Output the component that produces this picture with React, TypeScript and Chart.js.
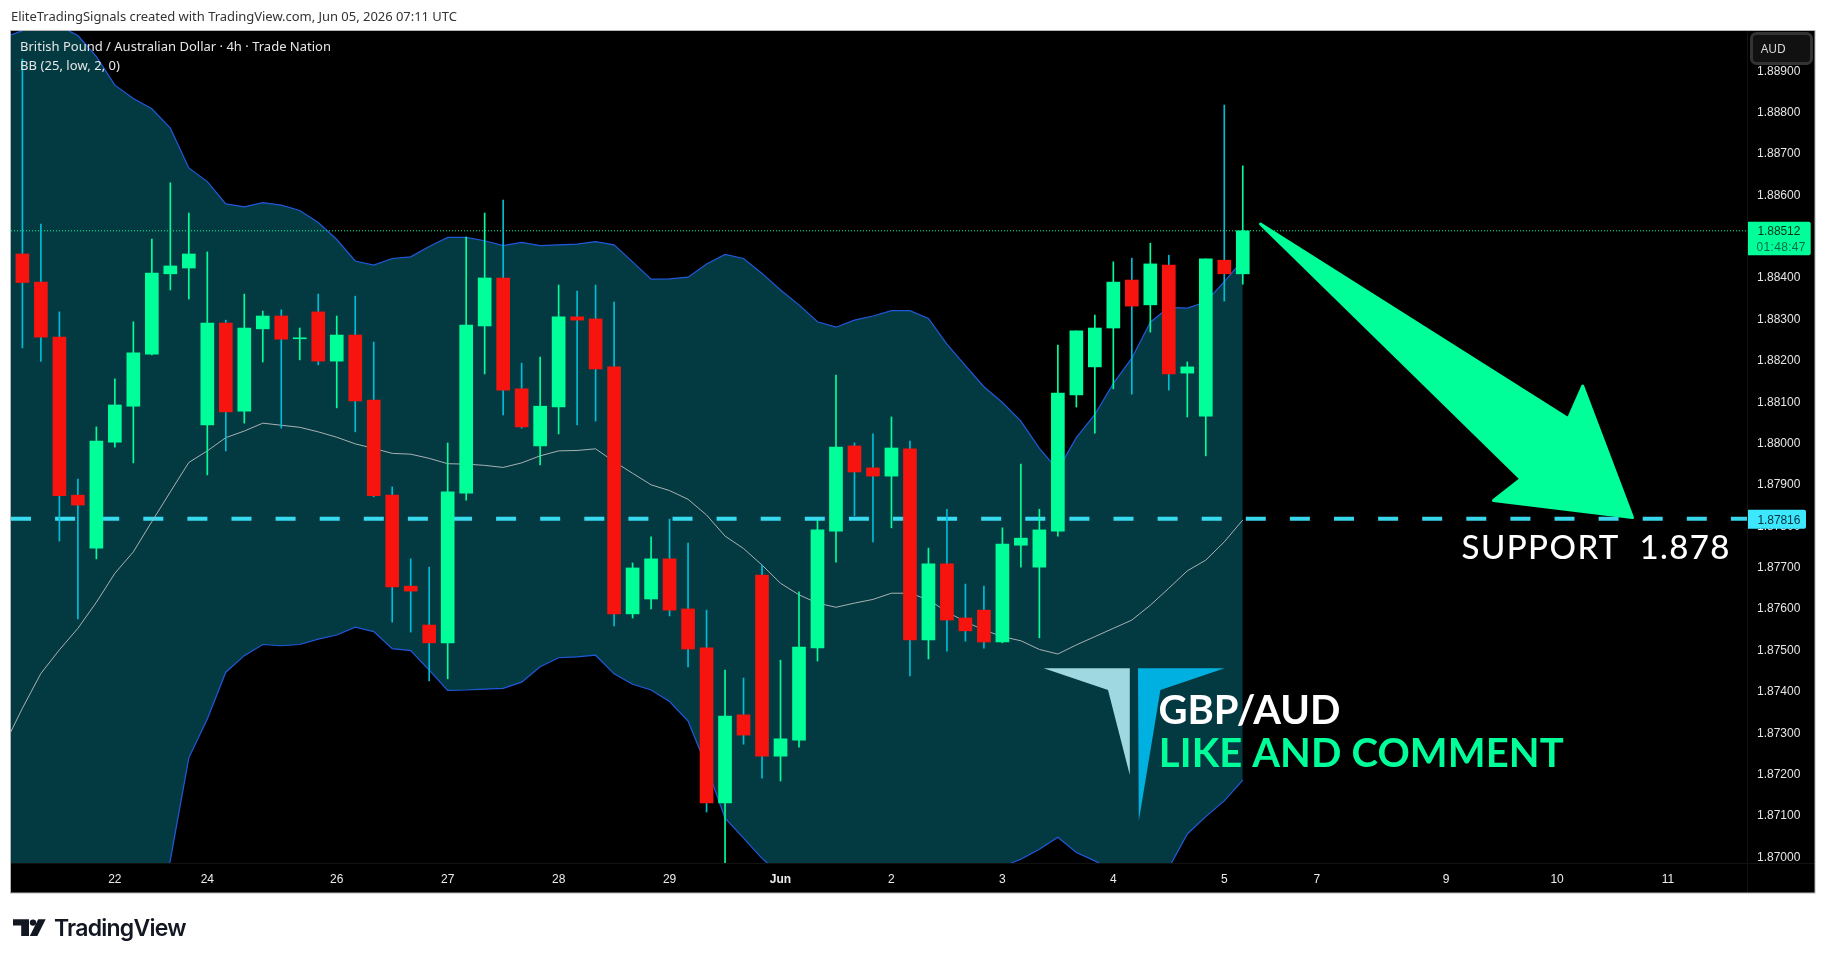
import React, { useEffect, useRef } from "react";
import { Chart, registerables } from "chart.js";

Chart.register(...registerables);

// candles, one per 4h bar
const opens = [
  1.88456, 1.88388, 1.88255, 1.87873, 1.87745, 1.88001, 1.88088, 1.88214, 1.88408, 1.88422,
  1.88043, 1.88289, 1.88076, 1.88275, 1.88306, 1.88251, 1.88316, 1.88197, 1.8826, 1.88103,
  1.87873, 1.87653, 1.87559, 1.87516, 1.87878, 1.88282, 1.88398, 1.8813, 1.87992, 1.88086,
  1.88304, 1.88299, 1.88183, 1.87586, 1.87622, 1.87719, 1.87598, 1.87504, 1.87129, 1.87342,
  1.8768, 1.87242, 1.87281, 1.87504, 1.87786, 1.87992, 1.87939, 1.87919, 1.87985, 1.87523,
  1.87707, 1.87576, 1.87595, 1.87518, 1.87752, 1.87699, 1.87786, 1.88115, 1.88183, 1.88277,
  1.88393, 1.88333, 1.88429, 1.88168, 1.88064, 1.88441, 1.88408,
];
const closes = [
  1.88387, 1.88255, 1.87872, 1.87849, 1.88004, 1.88091, 1.88217, 1.8841, 1.88427, 1.88456,
  1.88289, 1.88074, 1.88277, 1.88306, 1.8825, 1.88253, 1.88197, 1.8826, 1.88101, 1.87872,
  1.87651, 1.87641, 1.87516, 1.87881, 1.88284, 1.88398, 1.88127, 1.88038, 1.88088, 1.88304,
  1.88296, 1.88178, 1.87586, 1.87697, 1.87719, 1.87595, 1.87501, 1.87129, 1.87339, 1.87293,
  1.87242, 1.87284, 1.87506, 1.87789, 1.87989, 1.87929, 1.87919, 1.87987, 1.87523, 1.87707,
  1.87571, 1.87545, 1.87518, 1.87755, 1.87769, 1.87789, 1.8812, 1.8827, 1.88277, 1.88388,
  1.8833, 1.88432, 1.88166, 1.88183, 1.88444, 1.88408, 1.88512,
];
const highs = [
  1.88927, 1.88528, 1.88316, 1.87912, 1.88038, 1.88154, 1.88292, 1.88492, 1.88628, 1.88555,
  1.88461, 1.88296, 1.88359, 1.88318, 1.88321, 1.88277, 1.88359, 1.88306, 1.88354, 1.88243,
  1.87893, 1.87719, 1.87699, 1.87999, 1.88497, 1.88555, 1.88586, 1.88192, 1.88207, 1.88381,
  1.88366, 1.88381, 1.8834, 1.87709, 1.87772, 1.87815, 1.87757, 1.87595, 1.8745, 1.87431,
  1.87704, 1.87474, 1.87639, 1.87813, 1.88163, 1.87999, 1.88021, 1.88062, 1.88004, 1.87745,
  1.87839, 1.87658, 1.87653, 1.87794, 1.87948, 1.87839, 1.88236, 1.8827, 1.88308, 1.88437,
  1.88446, 1.88482, 1.88453, 1.88195, 1.88444, 1.88816, 1.88669,
];
const lows = [
  1.88229, 1.88196, 1.87762, 1.87574, 1.87719, 1.87989, 1.87951, 1.88212, 1.88369, 1.88347,
  1.87922, 1.8798, 1.88047, 1.88195, 1.88035, 1.882, 1.88188, 1.88084, 1.88026, 1.87869,
  1.87566, 1.87542, 1.87424, 1.87429, 1.87861, 1.88166, 1.88067, 1.88035, 1.87946, 1.88021,
  1.88043, 1.88052, 1.87557, 1.87576, 1.87598, 1.87581, 1.87458, 1.87107, 1.8698, 1.87271,
  1.87189, 1.87182, 1.87264, 1.87472, 1.87711, 1.87823, 1.8776, 1.87794, 1.87436, 1.87477,
  1.87496, 1.8752, 1.87503, 1.87516, 1.87699, 1.87528, 1.87774, 1.88086, 1.88023, 1.8813,
  1.88117, 1.88267, 1.88127, 1.88062, 1.87968, 1.88342, 1.88383,
];

// Bollinger bands, these start one bar before the first candle
const bbUpper = [
  1.88979, 1.88996, 1.89005, 1.89007, 1.88984, 1.88933, 1.88864, 1.88832, 1.88807, 1.8876,
  1.88664, 1.88631, 1.88577, 1.8857, 1.8858, 1.88574, 1.88561, 1.88532, 1.88491, 1.88439,
  1.88429, 1.88445, 1.88449, 1.88474, 1.88496, 1.88496, 1.88488, 1.88476, 1.88484, 1.88476,
  1.88478, 1.8848, 1.88486, 1.88478, 1.88437, 1.88395, 1.88396, 1.884, 1.88432, 1.88455,
  1.88445, 1.88409, 1.88369, 1.88333, 1.88292, 1.88279, 1.88296, 1.88306, 1.88319, 1.88319,
  1.883, 1.88238, 1.88186, 1.88135, 1.88097, 1.88052, 1.87986, 1.87934, 1.88012, 1.88068,
  1.88143, 1.88204, 1.88291, 1.88327, 1.88325, 1.8834, 1.88389, 1.88441,
];
const bbMiddle = [
  1.87267, 1.87358, 1.87442, 1.87499, 1.87551, 1.87614, 1.87684, 1.87736, 1.87809, 1.87881,
  1.87952, 1.8798, 1.88012, 1.88028, 1.88047, 1.88042, 1.88037, 1.88026, 1.88013, 1.87997,
  1.87986, 1.87974, 1.87972, 1.87962, 1.87949, 1.87948, 1.87945, 1.8794, 1.87951, 1.87968,
  1.8798, 1.87981, 1.87985, 1.87954, 1.87926, 1.87898, 1.87884, 1.87863, 1.87825, 1.87774,
  1.87744, 1.87704, 1.8766, 1.87632, 1.87612, 1.87602, 1.87612, 1.87621, 1.87636, 1.87636,
  1.8762, 1.87591, 1.87567, 1.87547, 1.87531, 1.87521, 1.875, 1.87489, 1.87511, 1.87531,
  1.87551, 1.87571, 1.87607, 1.87648, 1.8769, 1.87716, 1.8776, 1.87813,
];
const bbLower = [
  1.85686, 1.85734, 1.85807, 1.85903, 1.86024, 1.86169, 1.86338, 1.86532, 1.86749, 1.86991,
  1.87238, 1.87332, 1.87445, 1.87485, 1.87512, 1.87509, 1.87512, 1.87525, 1.87535, 1.87554,
  1.87543, 1.87502, 1.87497, 1.8745, 1.87401, 1.87402, 1.87404, 1.87406, 1.87421, 1.87458,
  1.8748, 1.87482, 1.87486, 1.87441, 1.87416, 1.87402, 1.87374, 1.87327, 1.87217, 1.87092,
  1.87044, 1.86995, 1.86955, 1.86935, 1.86919, 1.86911, 1.86911, 1.86919, 1.86926, 1.86935,
  1.86943, 1.8695, 1.8696, 1.86972, 1.86975, 1.86993, 1.87017, 1.87046, 1.87009, 1.86989,
  1.86963, 1.8695, 1.8696, 1.86972, 1.87054, 1.87096, 1.87134, 1.87184,
];

const supportPrice = 1.87816;
const lastPrice = 1.88512;

const yTickValues = [
  1.87, 1.871, 1.872, 1.873, 1.874, 1.875, 1.876, 1.877, 1.878, 1.879,
  1.88, 1.881, 1.882, 1.883, 1.884, 1.885, 1.886, 1.887, 1.888, 1.889,
];
const xTickValues = [5, 10, 17, 23, 29, 35, 41, 47, 53, 59, 65, 70, 77, 83, 89];
const xTickLabels = ["22", "24", "26", "27", "28", "29", "Jun", "2", "3", "4", "5", "7", "9", "10", "11"];

const X_MIN = -0.617;
const X_MAX = 93.27;
const GREEN = "#00ff99";
const RED = "#f7140e";
const WICK_DOWN = "#00bcd4";
const BAND_FILL = "#033a42";
const AXIS_FONT = "'Liberation Sans'";

// text squeezed or spaced out to the width it has in the picture
function fitText(ctx: any, text: string, x: number, y: number, font: string, color: string, width: number) {
  ctx.font = font;
  ctx.letterSpacing = "0px";
  const natural = ctx.measureText(text).width;
  ctx.letterSpacing = (width - natural) / (text.length - 1) + "px";
  ctx.fillStyle = color;
  ctx.textAlign = "left";
  ctx.textBaseline = "alphabetic";
  ctx.fillText(text, x, y);
  ctx.letterSpacing = "0px";
}

function polygon(ctx: any, points: number[][], color: string, round = 0) {
  ctx.beginPath();
  points.forEach(([x, y], i) => (i ? ctx.lineTo(x, y) : ctx.moveTo(x, y)));
  ctx.closePath();
  ctx.fillStyle = color;
  ctx.fill();
  if (round) {
    ctx.strokeStyle = color;
    ctx.lineWidth = round;
    ctx.lineJoin = "round";
    ctx.stroke();
  }
}

// white page, black pane and its frame
const framePlugin = {
  id: "frame",
  beforeDraw(chart: any) {
    const { ctx, chartArea } = chart;
    ctx.save();
    ctx.fillStyle = "#ffffff";
    ctx.fillRect(0, 0, chart.width, chart.height);
    ctx.fillStyle = "#000000";
    ctx.fillRect(11, 30, 1804, 863);
    ctx.fillStyle = "#121212";
    ctx.fillRect(chartArea.right, 30, 1, 863);
    ctx.fillRect(11, chartArea.bottom, 1804, 1);
    ctx.restore();
  },
};

// everything that was drawn by hand on the TradingView chart
const drawingsPlugin = {
  id: "drawings",
  afterDraw(chart: any) {
    const { ctx } = chart;
    const y = chart.scales.y;
    ctx.save();

    // frame on top of the chart edges
    ctx.strokeStyle = "#b4b4b4";
    ctx.lineWidth = 1;
    ctx.strokeRect(10.5, 30.5, 1804.5, 862.5);

    // arrow
    polygon(
      ctx,
      [
        [1260.5, 224],
        [1568.4, 418.7],
        [1582.7, 386],
        [1632.5, 517.5],
        [1493.5, 500.5],
        [1521, 479],
      ],
      GREEN,
      3
    );

    // logo mark
    polygon(ctx, [[1043.7, 668.3], [1129.8, 668.3], [1129.8, 775], [1108, 690]], "#a0d8e2");
    polygon(ctx, [[1138, 668.3], [1224.5, 668.3], [1160.4, 690], [1138.8, 821]], "#00b0e0");

    // annotations
    fitText(ctx, "GBP/AUD", 1158.4, 724, "bold 40px 'Lato'", "#ffffff", 182);
    fitText(ctx, "LIKE AND COMMENT", 1158.8, 766.7, "bold 40px 'Lato'", GREEN, 405);
    fitText(ctx, "SUPPORT  1.878", 1461.5, 559, "500 33px 'Lato'", "#ffffff", 268);

    // header and legend
    fitText(
      ctx,
      "EliteTradingSignals created with TradingView.com, Jun 05, 2026 07:11 UTC",
      11,
      21,
      "13px 'Noto Sans'",
      "#333333",
      446
    );
    fitText(ctx, "British Pound / Australian Dollar · 4h · Trade Nation", 20, 51, "13px 'Noto Sans'", "#e6e6e6", 311);
    fitText(ctx, "BB (25, low, 2, 0)", 20, 70, "13px 'Noto Sans'", "#e6e6e6", 100);

    // currency button
    ctx.beginPath();
    ctx.roundRect(1751.5, 33.5, 60, 30, 5);
    ctx.fillStyle = "#111111";
    ctx.fill();
    ctx.strokeStyle = "#333333";
    ctx.stroke();
    fitText(ctx, "AUD", 1760.7, 53, "12px 'Noto Sans'", "#d8d8d8", 25);

    // price tags on the axis
    const lastY = y.getPixelForValue(lastPrice);
    ctx.beginPath();
    ctx.roundRect(1748, lastY - 9, 62.7, 33.5, [0, 2, 2, 0]);
    ctx.fillStyle = GREEN;
    ctx.fill();
    fitText(ctx, "1.88512", 1757.4, lastY + 4.5, "12px 'Liberation Sans'", "#003322", 43);
    fitText(ctx, "01:48:47", 1756.5, lastY + 20, "12px 'Liberation Sans'", "#046b4a", 49);

    const supportY = y.getPixelForValue(supportPrice);
    ctx.beginPath();
    ctx.roundRect(1748, supportY - 9, 58, 19, [0, 2, 2, 0]);
    ctx.fillStyle = "#3de8ff";
    ctx.fill();
    fitText(ctx, "1.87816", 1757.4, supportY + 5.5, "12px 'Liberation Sans'", "#06323a", 43);

    // TradingView logo
    polygon(ctx, [[13, 919.3], [29, 919.3], [29, 936], [21.2, 936], [21.2, 925.5], [13, 925.5]], "#131722");
    polygon(ctx, [[45.7, 919.3], [38.2, 919.3], [29.8, 936], [37.3, 936]], "#131722");
    ctx.beginPath();
    ctx.arc(33, 922.6, 3.2, 0, Math.PI * 2);
    ctx.fillStyle = "#131722";
    ctx.fill();
    fitText(ctx, "TradingView", 53.9, 936, "600 23px 'Inter'", "#131722", 132.6);

    ctx.restore();
  },
};

const App: React.FC = () => {
  const chartRef = useRef<HTMLCanvasElement | null>(null);

  useEffect(() => {
    if (!chartRef.current) return;
    document.body.style.margin = "0";

    const candleColors = closes.map((c, i) => (c >= opens[i] ? GREEN : RED));
    const wickColors = closes.map((c, i) => (c >= opens[i] ? GREEN : WICK_DOWN));
    const bandPoints = (values: number[]) => values.map((y, i) => ({ x: i - 1, y }));
    const levelPoints = (y: number) => [
      { x: X_MIN, y },
      { x: X_MAX, y },
    ];

    const chart = new Chart(chartRef.current, {
      type: "bar",
      data: {
        datasets: [
          {
            type: "line",
            label: "BB upper",
            data: bandPoints(bbUpper),
            borderColor: "#2159dc",
            borderWidth: 1.2,
            backgroundColor: BAND_FILL,
            fill: 2,
            pointRadius: 0,
            tension: 0,
            order: 10,
          },
          {
            type: "line",
            label: "BB basis",
            data: bandPoints(bbMiddle),
            borderColor: "#a9b0b2",
            borderWidth: 1,
            pointRadius: 0,
            tension: 0,
            order: 7,
          },
          {
            type: "line",
            label: "BB lower",
            data: bandPoints(bbLower),
            borderColor: "#2159dc",
            borderWidth: 1.2,
            pointRadius: 0,
            tension: 0,
            order: 9,
          },
          {
            type: "line",
            label: "Support",
            data: levelPoints(supportPrice),
            borderColor: "rgba(61, 232, 255, 0.92)",
            borderWidth: 4,
            borderDash: [20, 24.1],
            pointRadius: 0,
            order: 8,
          },
          {
            type: "line",
            label: "Last price",
            data: levelPoints(lastPrice),
            borderColor: GREEN,
            borderWidth: 1,
            borderDash: [1, 2],
            pointRadius: 0,
            order: 6,
          },
          {
            type: "bar",
            label: "Wicks",
            data: highs.map((h, i) => ({ x: i, y: [lows[i], h] })),
            backgroundColor: wickColors,
            barThickness: 1,
            grouped: false,
            order: 5,
          },
          {
            type: "bar",
            label: "Bodies",
            data: opens.map((o, i) => ({ x: i, y: [o, closes[i]] })),
            backgroundColor: candleColors,
            barThickness: 13,
            grouped: false,
            minBarLength: 1,
            order: 4,
          },
        ] as any,
      },
      options: {
        animation: false,
        responsive: false,
        devicePixelRatio: 1,
        layout: { padding: { left: 11, top: 30, right: 11.4, bottom: 67 } },
        plugins: {
          legend: { display: false },
          tooltip: { enabled: false },
        },
        scales: {
          x: {
            type: "linear",
            offset: false,
            min: X_MIN,
            max: X_MAX,
            grid: { display: false, drawTicks: false },
            border: { display: false },
            afterBuildTicks: (scale: any) => {
              scale.ticks = xTickValues.map((value) => ({ value }));
            },
            afterFit: (scale: any) => {
              scale.height = 30;
            },
            ticks: {
              autoSkip: false,
              maxRotation: 0,
              minRotation: 0,
              padding: 9,
              color: "#ececec",
              font: (ctx: any) => ({
                family: AXIS_FONT,
                size: 12,
                weight: ctx.tick && ctx.tick.value === 41 ? "bold" : "normal",
              }),
              callback: (value: any) => xTickLabels[xTickValues.indexOf(value)],
            },
          },
          y: {
            position: "right",
            min: 1.869838,
            max: 1.889974,
            grid: { display: false, drawTicks: false },
            border: { display: false },
            afterBuildTicks: (scale: any) => {
              scale.ticks = yTickValues.map((value) => ({ value }));
            },
            afterFit: (scale: any) => {
              scale.width = 67.6;
            },
            ticks: {
              autoSkip: false,
              padding: 10,
              labelOffset: 1,
              color: "#e6e6e6",
              font: { family: AXIS_FONT, size: 12 },
              callback: (value: any) => Number(value).toFixed(5),
            },
          },
        },
      } as any,
      plugins: [framePlugin, drawingsPlugin],
    });

    return () => {
      chart.destroy();
    };
  }, []);

  return <canvas ref={chartRef} width={1826} height={960} style={{ display: "block" }} />;
};

export default App;
